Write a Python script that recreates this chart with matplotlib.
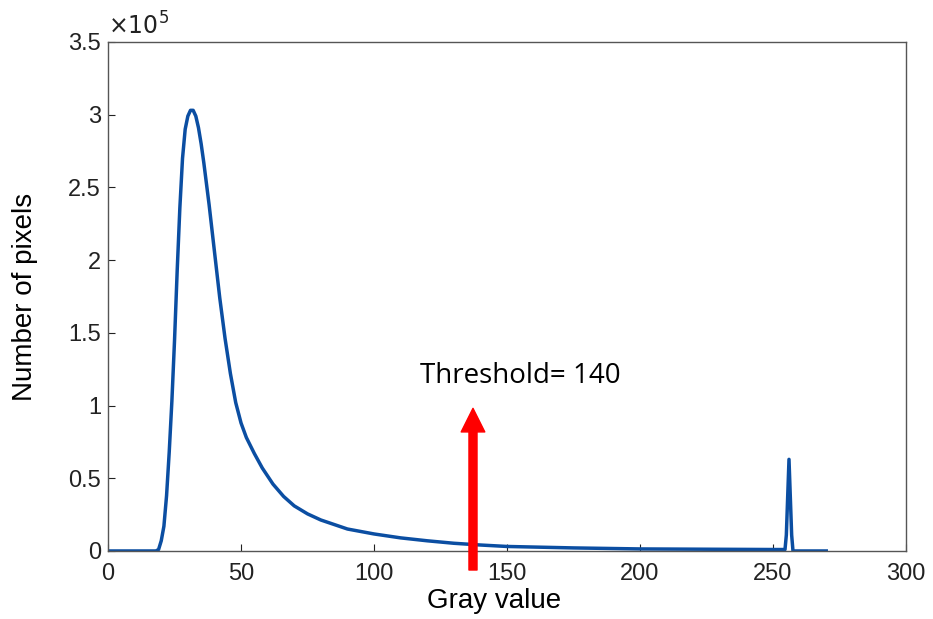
import matplotlib
matplotlib.use("Agg")
import matplotlib.pyplot as plt
from matplotlib.patches import FancyArrowPatch
from matplotlib.ticker import FuncFormatter

plt.rcParams['font.family'] = ['Liberation Sans', 'DejaVu Sans']

gray = [0, 18, 19, 20, 21, 22, 23, 24, 25, 26, 27, 28, 29, 30, 31, 32, 33, 34, 35, 36,
        38, 40, 42, 44, 46, 48, 50, 52, 55, 58, 62, 66, 70, 75, 80, 90, 100, 110, 120,
        130, 140, 150, 175, 200, 225, 250, 254.5, 255, 256, 257, 257.5, 270]
counts = [0, 0, 1000, 7000, 17000, 38000, 68000, 103000, 145000, 193000, 236000, 270000,
          290000, 299000, 303000, 303000, 299000, 291000, 280000, 267000,
          238000, 206000, 174000, 146000, 122000, 102000, 88000, 78000, 67000, 57000,
          46000, 37500, 31000, 25500, 21300, 15100, 11700, 9000, 7000,
          5300, 4100, 3100, 2100, 1400, 1200, 1000, 1000, 11000, 63000, 11000, 0, 0]

threshold = 140
xticks = [0, 50, 100, 150, 200, 250, 300]
yticks = [0, 50000, 100000, 150000, 200000, 250000, 300000, 350000]

fig = plt.figure(figsize=(9.33, 6.19), dpi=100)
ax = fig.add_axes([0.1158, 0.1099, 0.8553, 0.8223])
ax.plot(gray, counts, color='#0b4ea2', lw=2.5)
ax.set_xlim(0, 300)
ax.set_ylim(0, 350000)
ax.set_xticks(xticks)
ax.set_yticks(yticks)
ax.yaxis.set_major_formatter(FuncFormatter(lambda v, p: f'{v / 1e5:g}'))
ax.text(0.0, 1.004, r'$\times10^{5}$', transform=ax.transAxes, fontsize=17,
        ha='left', va='bottom', color='#222222')
ax.tick_params(direction='in', length=5, labelsize=17, colors='#222222')
ax.tick_params(axis='x', pad=9)
ax.tick_params(axis='y', pad=5)
for s in ax.spines.values():
    s.set_color('#555555')
    s.set_linewidth(1.0)
ax.set_xlabel('Gray value', fontsize=20)
ax.xaxis.set_label_coords(0.484, -0.073)
ax.set_ylabel('Number of pixels', fontsize=20)
ax.yaxis.set_label_coords(-0.088, 0.5)

arrow = FancyArrowPatch((137.2, -15000), (137.2, 100000),
                        arrowstyle='simple,head_length=17,head_width=17,tail_width=5.8',
                        mutation_scale=1, color='#ff0000', clip_on=False, zorder=5)
ax.add_patch(arrow)
ax.text(155, 120000, f'Threshold= {threshold}', fontsize=20,
        family=['Open Sans', 'DejaVu Sans'], ha='center', va='center')

fig.savefig('out.png', dpi=100)
